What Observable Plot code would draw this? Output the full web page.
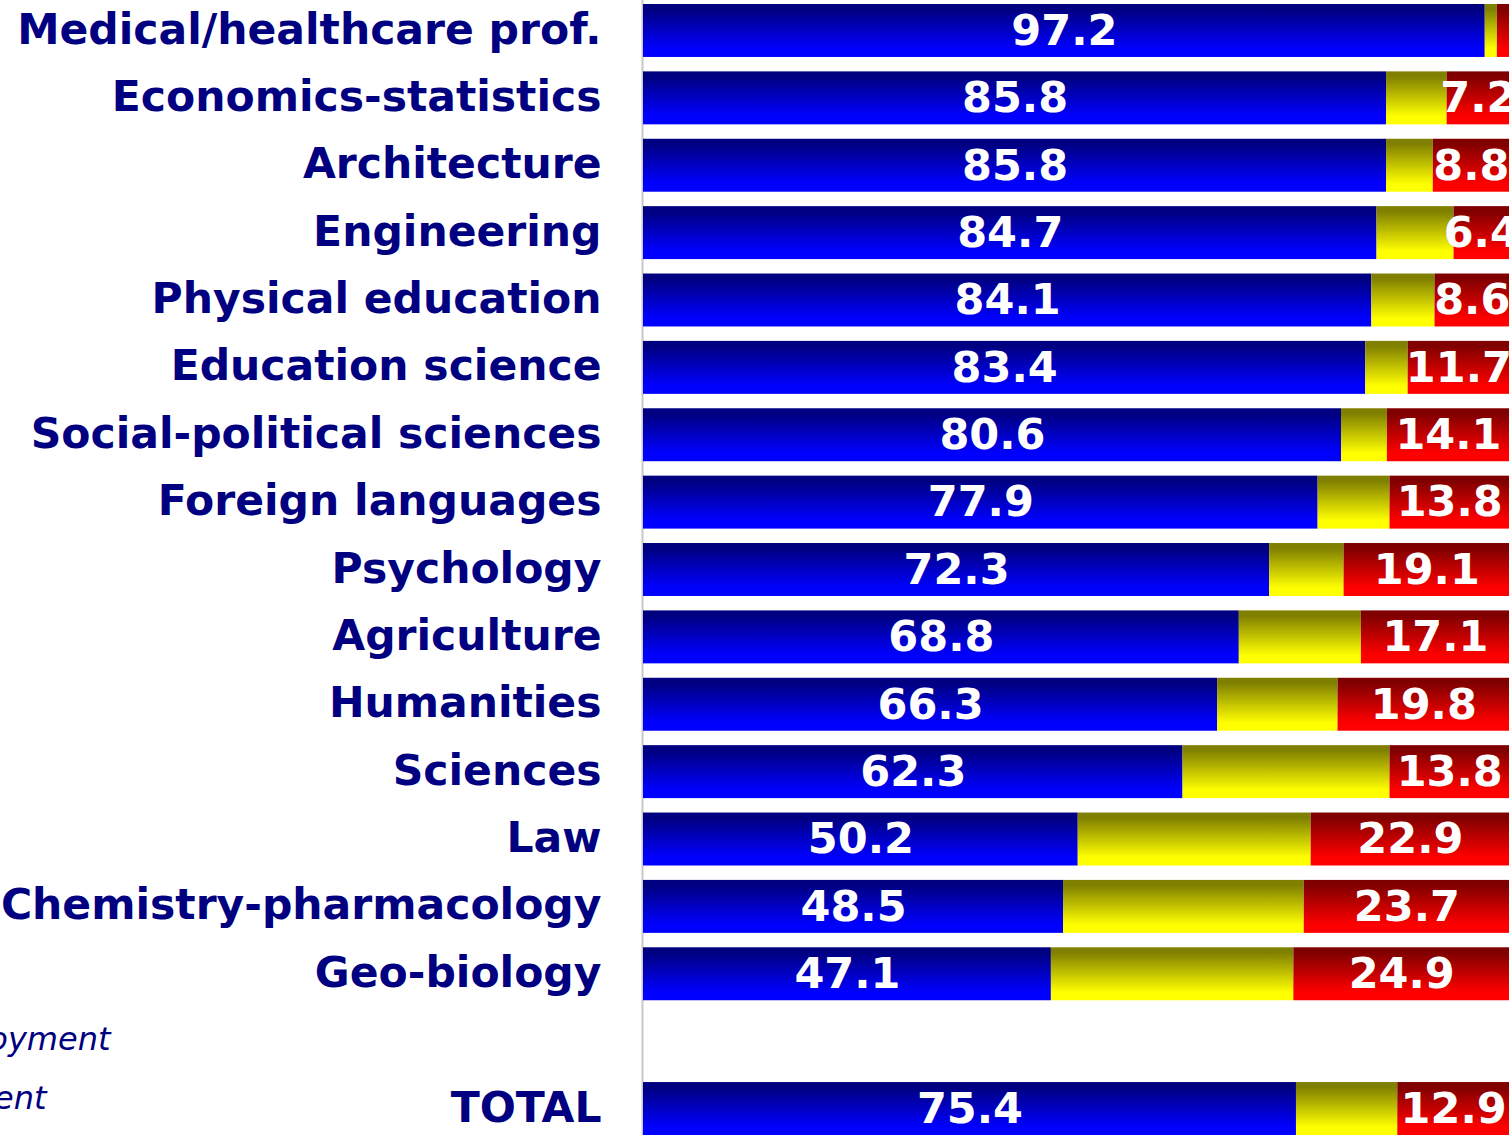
<!DOCTYPE html>
<html>
<head>
<meta charset="utf-8">
<script src="https://cdn.jsdelivr.net/npm/d3@7"></script>
<script src="https://cdn.jsdelivr.net/npm/@observablehq/plot@0.6"></script>
<style>
  html, body { margin: 0; padding: 0; background: #fff; }
  #chart svg { display: block; }
</style>
</head>
<body>
<div id="chart"></div>
<script>
const categories = [
  "Medical/healthcare prof.", "Economics-statistics", "Architecture", "Engineering",
  "Physical education", "Education science", "Social-political sciences", "Foreign languages",
  "Psychology", "Agriculture", "Humanities", "Sciences", "Law",
  "Chemistry-pharmacology", "Geo-biology", "TOTAL"
];
const seriesNames = ["Employment", "Further studies", "Unemployment"];
const employment   = [97.2, 85.8, 85.8, 84.7, 84.1, 83.4, 80.6, 77.9, 72.3, 68.8, 66.3, 62.3, 50.2, 48.5, 47.1, 75.4];
const furtherStudy = [1.4, 7.0, 5.4, 8.9, 7.3, 4.9, 5.3, 8.3, 8.6, 14.1, 13.9, 23.9, 26.9, 27.8, 28.0, 11.7];
const unemployment = [1.4, 7.2, 8.8, 6.4, 8.6, 11.7, 14.1, 13.8, 19.1, 17.1, 19.8, 13.8, 22.9, 23.7, 24.9, 12.9];
const legendLabels = ["Employment", "Unemployment"];

const yDomain = [...categories.slice(0, 15), " ", "TOTAL"];
const seriesValues = [employment, furtherStudy, unemployment];
const table = [];
categories.forEach((c, i) => {
  seriesNames.forEach((s, k) => {
    table.push({category: c, series: s, value: seriesValues[k][i]});
  });
});
const fmt = d3.format(".1f");
const navy = "#000080";
const font = "DejaVu Sans, Verdana, sans-serif";

const svg = Plot.plot({
  width: 1509,
  height: 1135,
  marginLeft: 643,
  marginRight: 0,
  marginTop: 4,
  marginBottom: 0,
  style: {background: "#fff", fontFamily: font},
  x: {domain: [0, 100], axis: null},
  y: {domain: yDomain, paddingInner: 0.214, paddingOuter: 0, round: false, axis: null},
  color: {domain: seriesNames, range: ["url(#gBlue)", "url(#gYellow)", "url(#gRed)"]},
  marks: [
    Plot.ruleX([0], {stroke: "#c8c8c8", strokeWidth: 2, dx: -1, insetTop: -4}),
    Plot.barX(table, Plot.stackX({x: "value", y: "category", fill: "series"})),
    Plot.text(table, Plot.stackX({
      x: "value", y: "category", z: "series",
      text: d => (d.series === seriesNames[1] || d.value < 3) ? null : fmt(d.value),
      fill: "white", fontWeight: "bold", fontSize: 43, dy: 0,
      fontFamily: font
    })),
    Plot.text(categories, {
      y: d => d, text: d => d, frameAnchor: "left", textAnchor: "end", dx: -42,
      fill: navy, fontWeight: "bold", fontSize: 42.5, dy: -1,
      fontFamily: font
    }),
    Plot.text(legendLabels, {
      text: d => d, frameAnchor: "bottom-left", textAnchor: "end", lineAnchor: "bottom",
      fill: navy, fontStyle: "italic", fontSize: 32,
      fontFamily: font
    })
  ]
});

// Gradients
const defs = d3.select(svg).insert("defs", ":first-child");
const grads = [["gBlue", "#000080", "#0000ff"], ["gYellow", "#808000", "#ffff00"], ["gRed", "#800000", "#ff0000"]];
for (const [id, c0, c1] of grads) {
  const g = defs.append("linearGradient").attr("id", id)
    .attr("x1", 0).attr("y1", 0).attr("x2", 0).attr("y2", 1);
  g.append("stop").attr("offset", "0.1").attr("stop-color", c0);
  g.append("stop").attr("offset", "0.85").attr("stop-color", c1);
}

// position legend texts (cut off at the left edge as in the reference)
const legendNodes = d3.select(svg).selectAll("g[aria-label='text']").filter((d, i) => i === 2).selectAll("text");
const legendPos = [[110, 1049], [46, 1108]];
legendNodes.each(function(d, i) {
  d3.select(this).attr("x", legendPos[i][0]).attr("y", legendPos[i][1]).attr("transform", null);
});

document.getElementById("chart").appendChild(svg);
</script>
</body>
</html>
